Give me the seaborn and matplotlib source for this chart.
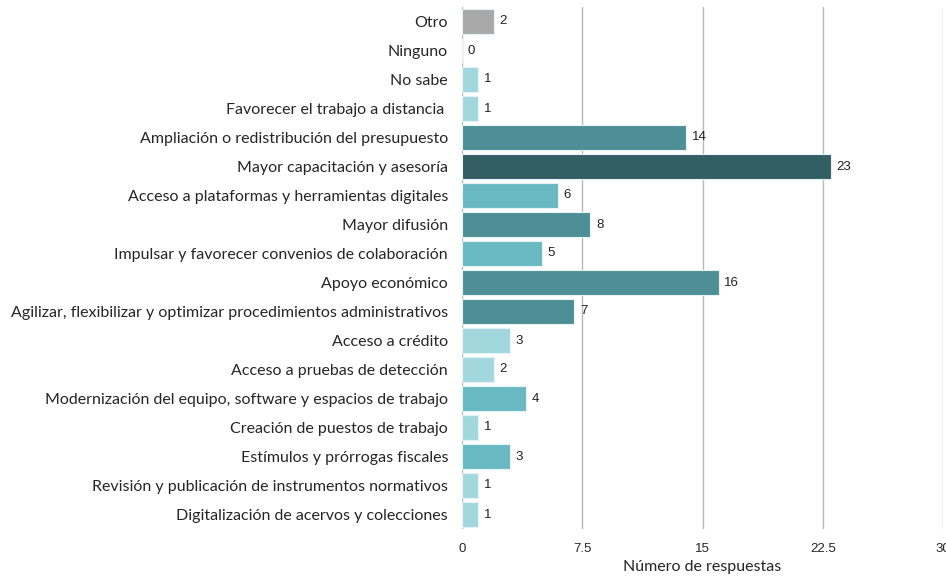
import numpy as np
import pandas as pd
import matplotlib
matplotlib.use("Agg")
import matplotlib.pyplot as plt
import seaborn as sbrn

categorias = [
    "Otro",
    "Ninguno",
    "No sabe",
    "Favorecer el trabajo a distancia ",
    "Ampliación o redistribución del presupuesto",
    "Mayor capacitación y asesoría",
    "Acceso a plataformas y herramientas digitales",
    "Mayor difusión",
    "Impulsar y favorecer convenios de colaboración",
    "Apoyo económico",
    "Agilizar, flexibilizar y optimizar procedimientos administrativos",
    "Acceso a crédito",
    "Acceso a pruebas de detección",
    "Modernización del equipo, software y espacios de trabajo",
    "Creación de puestos de trabajo",
    "Estímulos y prórrogas fiscales",
    "Revisión y publicación de instrumentos normativos",
    "Digitalización de acervos y colecciones",
]
respuestas = [2, 0, 1, 1, 14, 23, 6, 8, 5, 16, 7, 3, 2, 4, 1, 3, 1, 1]
grupo = ["otro", "claro", "claro", "claro", "medio", "oscuro", "suave", "medio", "suave",
         "medio", "medio", "claro", "claro", "suave", "claro", "suave", "claro", "claro"]

colores = {"otro": "#a8a8a8", "claro": "#a3d7de", "suave": "#69b9c3",
           "medio": "#4e8f96", "oscuro": "#335e64"}

df = pd.DataFrame({"Categoria": categorias, "Respuestas": respuestas, "Grupo": grupo})

sbrn.set_style("white")
plt.rcParams['font.family'] = ['Lato', 'DejaVu Sans']

fig = plt.figure(figsize=(9.46, 5.8), dpi=100)
ax = fig.add_axes([462 / 946, 1 - 529 / 580, 481 / 946, 522 / 580])

ax.set_axisbelow(True)
for x in [0, 7.5, 15, 22.5, 30]:
    ax.axvline(x, color="#b8b8b8", lw=1, zorder=0)

sbrn.barplot(data=df, y="Categoria", x="Respuestas", hue="Grupo", palette=colores,
             orient="h", width=0.83, dodge=False, legend=False, ax=ax, saturation=1,
             edgecolor="#e6f3f5", linewidth=0.8, zorder=2)

for i, v in enumerate(respuestas):
    ax.text(v + 0.35, i, str(v), va="center", ha="left", fontsize=9.5,
            family="Liberation Sans", color="#222222")

ax.set_xlim(0, 30)
ax.set_ylim(len(categorias) - 0.5, -0.5)
ax.set_xticks([0, 7.5, 15, 22.5, 30])
ax.set_xticklabels(["0", "7.5", "15", "22.5", "30"], family="Liberation Sans", fontsize=9.5)
ax.tick_params(axis="x", length=0, pad=10)
ax.tick_params(axis="y", length=0, pad=10, labelsize=11.5)
ax.set_ylabel("")
ax.set_xlabel("Número de respuestas", fontsize=11.5, labelpad=4)
for s in ax.spines.values():
    s.set_visible(False)

fig.savefig("out.png", dpi=100)
